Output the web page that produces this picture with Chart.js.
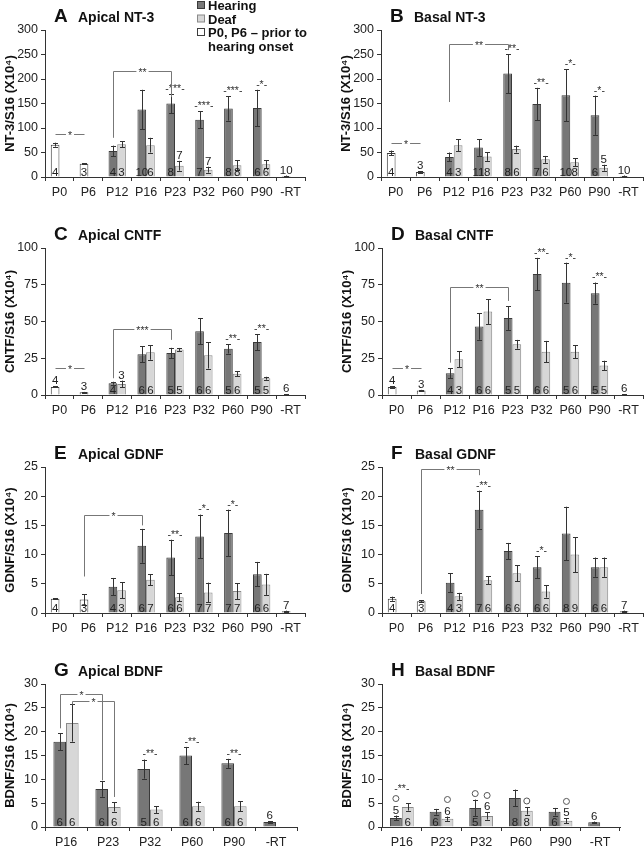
<!DOCTYPE html>
<html lang="en">
<head>
<meta charset="UTF-8">
<title>Neurotrophic factor expression, apical and basal cochlea</title>
<script src="https://cdn.jsdelivr.net/npm/chart.js"></script>
<style>
  body { margin: 0; background: #fff; }
  #wrap { position: relative; width: 644px; height: 853px; overflow: hidden; }
  #wrap canvas { position: absolute; }
</style>
</head>
<body>
<div id="wrap">
  <canvas id="cA"></canvas><canvas id="cB"></canvas>
  <canvas id="cC"></canvas><canvas id="cD"></canvas>
  <canvas id="cE"></canvas><canvas id="cF"></canvas>
  <canvas id="cG"></canvas><canvas id="cH"></canvas>
</div>
<script>
// ---- data ----
const agesAll = ['P0', 'P6', 'P12', 'P16', 'P23', 'P32', 'P60', 'P90', '-RT'];
const agesBdnf = ['P16', 'P23', 'P32', 'P60', 'P90', '-RT'];
const _ = null;

// A  Apical NT-3
const aHear = [_, _, 53, 138, 150, 117, 140, 141, 2];
const aHearErr = [0, 0, 11, 40, 20, 17, 25, 37, 1];
const aDeaf = [_, _, 67, 65, 23, 15, 24, 26, _];
const aDeafErr = [0, 0, 6, 15, 10, 6, 10, 8, 0];
const aPrior = [66, 27, _, _, _, _, _, _, _];
const aPriorErr = [4, 1, 0, 0, 0, 0, 0, 0, 0];
const aHearN = [_, _, 4, 10, 8, 7, 8, 6, 10];
const aDeafN = [_, _, 3, 6, 7, 7, 8, 6, _];
const aPriorN = [4, 3, _, _, _, _, _, _, _];
const aStars = ['', '', '', '', '***', '***', '***', '*', ''];
// [dataset, index, dataset, index, top, leftLegEnd, rightLegEnd, label]
const aBrackets = [[0, 2, 0, 4, 216, 80, 163, '**'], [2, 0, 2, 1, 87, _, _, '*']];

// B  Basal NT-3
const bHear = [_, _, 41, 60, 211, 149, 167, 126, 2];
const bHearErr = [0, 0, 9, 17, 40, 33, 53, 40, 1];
const bDeaf = [_, _, 65, 42, 57, 36, 30, 19, _];
const bDeafErr = [0, 0, 12, 9, 7, 7, 8, 6, 0];
const bPrior = [49, 10, _, _, _, _, _, _, _];
const bPriorErr = [5, 1.5, 0, 0, 0, 0, 0, 0, 0];
const bHearN = [_, _, 4, 11, 8, 7, 10, 6, 10];
const bDeafN = [_, _, 3, 8, 6, 6, 8, 5, _];
const bPriorN = [4, 3, _, _, _, _, _, _, _];
const bStars = ['', '', '', '', '**', '**', '*', '*', ''];
const bBrackets = [[0, 2, 0, 4, 272, 153, 259, '**'], [2, 0, 2, 1, 70, _, _, '*']];

// C  Apical CNTF
const cHear = [_, _, 8, 27.7, 28.6, 43.4, 31.4, 36, 0.3];
const cHearErr = [0, 0, 1, 5.5, 3.5, 9, 3.2, 5.5, 0.1];
const cDeaf = [_, _, 7.5, 29, 31, 27, 14.5, 11.4, _];
const cDeafErr = [0, 0, 2.3, 5, 1, 9, 1.8, 1, 0];
const cPrior = [5.5, 1.8, _, _, _, _, _, _, _];
const cPriorErr = [0.3, 0.3, 0, 0, 0, 0, 0, 0, 0];
const cHearN = [_, _, 4, 6, 5, 6, 5, 5, 6];
const cDeafN = [_, _, 3, 6, 5, 6, 6, 5, _];
const cPriorN = [4, 3, _, _, _, _, _, _, _];
const cStars = ['', '', '', '', '', '', '**', '**', ''];
const cBrackets = [[0, 2, 0, 4, 45, 11.4, 37.5, '***'], [2, 0, 2, 1, 18.2, _, _, '*']];

// D  Basal CNTF
const dHear = [_, _, 14.8, 46.6, 52.3, 82.3, 76.4, 69.3, 0.3];
const dHearErr = [0, 0, 3.4, 9, 8, 11, 13.6, 7.2, 0.1];
const dDeaf = [_, _, 24.3, 56.8, 34.5, 29.5, 29.5, 20, _];
const dDeafErr = [0, 0, 5.5, 8.5, 3, 7.3, 4.5, 3.3, 0];
const dPrior = [5.5, 3, _, _, _, _, _, _, _];
const dPriorErr = [0.5, 0.5, 0, 0, 0, 0, 0, 0, 0];
const dHearN = [_, _, 4, 6, 5, 6, 5, 5, 6];
const dDeafN = [_, _, 3, 6, 5, 6, 6, 5, _];
const dPriorN = [4, 3, _, _, _, _, _, _, _];
const dStars = ['', '', '', '', '', '**', '*', '**', ''];
const dBrackets = [[0, 2, 0, 4, 73.6, 22, 64, '**'], [2, 0, 2, 1, 18.2, _, _, '*']];

// E  Apical GDNF
const eHear = [_, _, 4.5, 11.5, 9.5, 13.1, 13.7, 6.65, 0.3];
const eHearErr = [0, 0, 1.5, 2.9, 3.05, 3.75, 4, 2.1, 0.1];
const eDeaf = [_, _, 3.9, 5.7, 2.7, 3.5, 3.75, 4.9, _];
const eDeafErr = [0, 0, 1.4, 0.95, 0.65, 1.7, 1.35, 1.8, 0];
const ePrior = [2.45, 2.3, _, _, _, _, _, _, _];
const ePriorErr = [0.1, 0.9, 0, 0, 0, 0, 0, 0, 0];
const eHearN = [_, _, 4, 6, 6, 7, 7, 6, 7];
const eDeafN = [_, _, 3, 7, 6, 7, 7, 6, _];
const ePriorN = [4, 3, _, _, _, _, _, _, _];
const eStars = ['', '', '', '', '**', '*', '*', '', ''];
const eBrackets = [[2, 1, 0, 3, 16.8, 6.25, 15, '*']];

// F  Basal GDNF
const fHear = [_, _, 5.2, 17.7, 10.6, 7.85, 13.6, 7.85, 0.3];
const fHearErr = [0, 0, 1.6, 3.25, 1.4, 1.9, 4.6, 1.65, 0.1];
const fDeaf = [_, _, 2.85, 5.6, 6.8, 3.7, 10, 7.85, _];
const fDeafErr = [0, 0, 0.6, 0.7, 1.4, 1.05, 3, 1.65, 0];
const fPrior = [2.45, 2.0, _, _, _, _, _, _, _];
const fPriorErr = [0.35, 0.2, 0, 0, 0, 0, 0, 0, 0];
const fHearN = [_, _, 4, 7, 6, 6, 8, 6, 7];
const fDeafN = [_, _, 3, 6, 6, 6, 9, 6, _];
const fPriorN = [4, 3, _, _, _, _, _, _, _];
const fStars = ['', '', '', '**', '', '*', '', '', ''];
const fBrackets = [[2, 1, 0, 3, 24.7, 3.25, 23.6, '**']];

// G  Apical BDNF
const gHear = [17.9, 7.95, 12.15, 15, 13.35, 1.05];
const gHearErr = [1.8, 1.6, 2, 1.8, 0.95, 0.2];
const gDeaf = [21.8, 4.2, 3.65, 4.35, 4.35, _];
const gDeafErr = [3.9, 0.95, 0.7, 0.95, 1.05, 0];
const gHearN = [6, 6, 5, 6, 6, 6];
const gDeafN = [6, 6, 6, 6, 6, _];
const gStars = ['', '', '**', '**', '**', ''];
const gBrackets = [[0, 0, 0, 1, 27.9, 20.7, 9.8, '*'], [1, 0, 1, 1, 26.35, 25.7, 6.3, '*']];

// H  Basal BDNF
const hHear = [1.9, 3.2, 4.0, 6.1, 3.2, 1.0];
const hHearErr = [0.5, 0.6, 1.75, 1.75, 0.8, 0.15];
const hDeaf = [4.2, 1.75, 2.3, 3.4, 1.3, _];
const hDeafErr = [0.75, 0.45, 0.75, 0.8, 0.5, 0];
const hHearN = [5, 6, 5, 8, 6, 6];
const hDeafN = [6, 6, 6, 8, 5, _];
const hHearOpen = [1, 0, 1, 0, 0, 0];
const hDeafOpen = [0, 1, 1, 1, 1, 0];
const hStars = ['**', '', '', '', '', ''];

// ---- style ----
const FONT = "'Liberation Sans', Arial, sans-serif";
const INK = '#222';
const HEAR_FILL = '#777777', HEAR_LINE = '#3a3a3a';
const DEAF_FILL = '#d7d7d7', DEAF_LINE = '#8a8a8a';
const PRIOR_FILL = '#ffffff', PRIOR_LINE = '#3c3c3c';

const extras = {};

const decor = {
  id: 'decor',
  afterDatasetsDraw(chart) {
    const d = extras[chart.canvas.id];
    if (!d) return;
    const ctx = chart.ctx;
    const ys = chart.scales.y, xs = chart.scales.x;
    const zero = ys.getPixelForValue(0);
    const tops = [];
    ctx.save();
    ctx.lineWidth = 1;

    chart.data.datasets.forEach((ds, i) => {
      const meta = chart.getDatasetMeta(i);
      meta.data.forEach((bar, j) => {
        const v = ds.data[j];
        if (v == null) return;
        const e = (d.err[i] && d.err[i][j]) || 0;
        const x = Math.round(bar.x) + 0.5;
        const yt = ys.getPixelForValue(v + e), yb = ys.getPixelForValue(v - e);
        if (e > 0) {
          ctx.strokeStyle = '#333';
          ctx.beginPath();
          ctx.moveTo(x, yt); ctx.lineTo(x, yb);
          ctx.moveTo(x - 2.5, Math.round(yt) + 0.5); ctx.lineTo(x + 2.5, Math.round(yt) + 0.5);
          ctx.moveTo(x - 2.5, Math.round(yb) + 0.5); ctx.lineTo(x + 2.5, Math.round(yb) + 0.5);
          ctx.stroke();
        }
        let top = Math.min(yt, bar.y);
        const n = d.n[i] ? d.n[i][j] : null;
        if (n != null) {
          ctx.fillStyle = INK;
          ctx.font = '11.5px ' + FONT;
          ctx.textAlign = 'center';
          ctx.textBaseline = 'alphabetic';
          if (zero - bar.y > 11.5) {
            ctx.fillText(String(n), bar.x, zero - 1);
          } else {
            ctx.fillText(String(n), bar.x, top - 2);
            top -= 11;
          }
        }
        if (d.open && d.open[i] && d.open[i][j]) {
          ctx.strokeStyle = '#555';
          ctx.beginPath();
          ctx.arc(bar.x, top - 6, 3, 0, Math.PI * 2);
          ctx.stroke();
          top -= 10;
        }
        tops[j] = Math.min(tops[j] === undefined ? Infinity : tops[j], top);
      });
    });

    // significance between hearing and deaf
    ctx.font = '10.5px ' + FONT;
    ctx.textAlign = 'center';
    ctx.textBaseline = 'middle';
    ctx.fillStyle = '#333';
    d.stars.forEach((s, j) => {
      if (!s) return;
      ctx.fillText('-' + s + '-', xs.getPixelForValue(j), tops[j] - 5);
    });

    // comparison brackets
    (d.brackets || []).forEach(b => {
      const xa = Math.round(chart.getDatasetMeta(b[0]).data[b[1]].x) + 0.5;
      const xb = Math.round(chart.getDatasetMeta(b[2]).data[b[3]].x) + 0.5;
      const yt = Math.round(ys.getPixelForValue(b[4])) + 0.5;
      ctx.strokeStyle = '#777';
      ctx.beginPath();
      if (b[5] != null) { ctx.moveTo(xa, ys.getPixelForValue(b[5])); ctx.lineTo(xa, yt); } else ctx.moveTo(xa, yt);
      ctx.lineTo(xb, yt);
      if (b[6] != null) ctx.lineTo(xb, ys.getPixelForValue(b[6]));
      ctx.stroke();
      const mx = (xa + xb) / 2;
      const w = ctx.measureText(b[7]).width + 4;
      ctx.fillStyle = '#fff';
      ctx.fillRect(mx - w / 2, yt - 3, w, 6);
      ctx.fillStyle = '#333';
      ctx.fillText(b[7], mx, yt + 2);
    });

    // panel heading
    const area = chart.chartArea;
    ctx.fillStyle = '#111';
    ctx.textAlign = 'left';
    ctx.textBaseline = 'alphabetic';
    ctx.font = 'bold 19px ' + FONT;
    ctx.fillText(d.letter, area.left + 9, area.top - 8);
    ctx.font = 'bold 14px ' + FONT;
    ctx.fillText(d.name, area.left + 33, area.top - 8);

    // legend (panel A only)
    if (d.legend) {
      const rows = [[HEAR_FILL, HEAR_LINE, 'Hearing'], [DEAF_FILL, DEAF_LINE, 'Deaf'],
                    [PRIOR_FILL, PRIOR_LINE, 'P0, P6 \u2013 prior to'], [null, null, 'hearing onset']];
      ctx.font = 'bold 13px ' + FONT;
      rows.forEach((r, k) => {
        const by = 10 + k * 13.5;
        if (r[0]) {
          ctx.fillStyle = r[0];
          ctx.fillRect(197.5, by - 8.5, 7, 7);
          ctx.strokeStyle = r[1];
          ctx.strokeRect(197.5, by - 8.5, 7, 7);
        }
        ctx.fillStyle = '#111';
        ctx.fillText(r[2], 208, by);
      });
    }
    ctx.restore();
  }
};

function panel(id, frame, labels, sets, yMax, yStep, yTitle, info) {
  const cv = document.getElementById(id);
  cv.width = frame.w; cv.height = frame.h;
  cv.style.left = frame.x + 'px'; cv.style.top = frame.y + 'px';
  const yw = frame.axis - frame.x;
  const xh = 22;
  extras[id] = info;

  const datasets = [
    { label: 'Hearing', data: sets[0], backgroundColor: HEAR_FILL, borderColor: HEAR_LINE, stack: 'h' },
    { label: 'Deaf', data: sets[1], backgroundColor: DEAF_FILL, borderColor: DEAF_LINE, stack: 'd' }
  ];
  if (sets[2]) datasets.push({ label: 'P0, P6 \u2013 prior to hearing onset', data: sets[2],
    backgroundColor: PRIOR_FILL, borderColor: PRIOR_LINE, stack: 'h' });
  datasets.forEach(ds => { ds.borderWidth = 1; ds.categoryPercentage = 0.6; ds.barPercentage = 1.0; });

  new Chart(cv, {
    type: 'bar',
    data: { labels: labels, datasets: datasets },
    options: {
      responsive: false,
      animation: false,
      layout: { padding: { top: frame.top - frame.y, bottom: frame.h - (frame.bottom - frame.y) - xh,
                           left: 0, right: frame.x + frame.w - frame.right } },
      plugins: { legend: { display: false }, tooltip: { enabled: false }, title: { display: false } },
      scales: {
        x: {
          afterFit: s => { s.height = xh; },
          grid: { display: true, drawOnChartArea: false, drawTicks: true, tickLength: 4, color: '#333', offset: true },
          border: { color: '#333', width: 1 },
          ticks: { color: INK, font: { family: FONT, size: 12.5 }, padding: 4, maxRotation: 0, autoSkip: false }
        },
        y: {
          min: 0, max: yMax,
          afterFit: s => { s.width = yw; },
          grid: { display: true, drawOnChartArea: false, drawTicks: true, tickLength: 4, color: '#333' },
          border: { color: '#333', width: 1 },
          ticks: { stepSize: yStep, color: INK, font: { family: FONT, size: 12.5 }, padding: 3 },
          title: { display: true, text: yTitle, color: '#111', font: { family: FONT, size: 13, weight: 'bold' },
                   padding: { top: Math.max(0, yw - 35 - 7.8), bottom: 0 } }
        }
      }
    },
    plugins: [decor]
  });
}

const fA = { x: 0, y: 0, w: 320, h: 213, axis: 45, right: 305, top: 30, bottom: 177 };
const fB = { x: 320, y: 0, w: 324, h: 213, axis: 381, right: 643, top: 30, bottom: 177 };
const fC = { x: 0, y: 213, w: 320, h: 212, axis: 45, right: 305, top: 248, bottom: 395 };
const fD = { x: 320, y: 213, w: 324, h: 212, axis: 382, right: 643, top: 248, bottom: 395 };
const fE = { x: 0, y: 425, w: 320, h: 213, axis: 45, right: 305, top: 467, bottom: 613 };
const fF = { x: 320, y: 425, w: 324, h: 213, axis: 382, right: 643, top: 467, bottom: 613 };
const fG = { x: 0, y: 638, w: 320, h: 215, axis: 45, right: 297, top: 684, bottom: 827 };
const fH = { x: 320, y: 638, w: 324, h: 215, axis: 382, right: 620, top: 684, bottom: 827 };

panel('cA', fA, agesAll, [aHear, aDeaf, aPrior], 300, 50, 'NT-3/S16 (X10\u2074)',
  { letter: 'A', name: 'Apical NT-3', err: [aHearErr, aDeafErr, aPriorErr], n: [aHearN, aDeafN, aPriorN],
    stars: aStars, brackets: aBrackets, legend: true });
panel('cB', fB, agesAll, [bHear, bDeaf, bPrior], 300, 50, 'NT-3/S16 (X10\u2074)',
  { letter: 'B', name: 'Basal NT-3', err: [bHearErr, bDeafErr, bPriorErr], n: [bHearN, bDeafN, bPriorN],
    stars: bStars, brackets: bBrackets });
panel('cC', fC, agesAll, [cHear, cDeaf, cPrior], 100, 25, 'CNTF/S16 (X10\u2074)',
  { letter: 'C', name: 'Apical CNTF', err: [cHearErr, cDeafErr, cPriorErr], n: [cHearN, cDeafN, cPriorN],
    stars: cStars, brackets: cBrackets });
panel('cD', fD, agesAll, [dHear, dDeaf, dPrior], 100, 25, 'CNTF/S16 (X10\u2074)',
  { letter: 'D', name: 'Basal CNTF', err: [dHearErr, dDeafErr, dPriorErr], n: [dHearN, dDeafN, dPriorN],
    stars: dStars, brackets: dBrackets });
panel('cE', fE, agesAll, [eHear, eDeaf, ePrior], 25, 5, 'GDNF/S16 (X10\u2074)',
  { letter: 'E', name: 'Apical GDNF', err: [eHearErr, eDeafErr, ePriorErr], n: [eHearN, eDeafN, ePriorN],
    stars: eStars, brackets: eBrackets });
panel('cF', fF, agesAll, [fHear, fDeaf, fPrior], 25, 5, 'GDNF/S16 (X10\u2074)',
  { letter: 'F', name: 'Basal GDNF', err: [fHearErr, fDeafErr, fPriorErr], n: [fHearN, fDeafN, fPriorN],
    stars: fStars, brackets: fBrackets });
panel('cG', fG, agesBdnf, [gHear, gDeaf], 30, 5, 'BDNF/S16 (X10\u2074)',
  { letter: 'G', name: 'Apical BDNF', err: [gHearErr, gDeafErr], n: [gHearN, gDeafN],
    stars: gStars, brackets: gBrackets });
panel('cH', fH, agesBdnf, [hHear, hDeaf], 30, 5, 'BDNF/S16 (X10\u2074)',
  { letter: 'H', name: 'Basal BDNF', err: [hHearErr, hDeafErr], n: [hHearN, hDeafN],
    open: [hHearOpen, hDeafOpen], stars: hStars, brackets: [] });
</script>
</body>
</html>
